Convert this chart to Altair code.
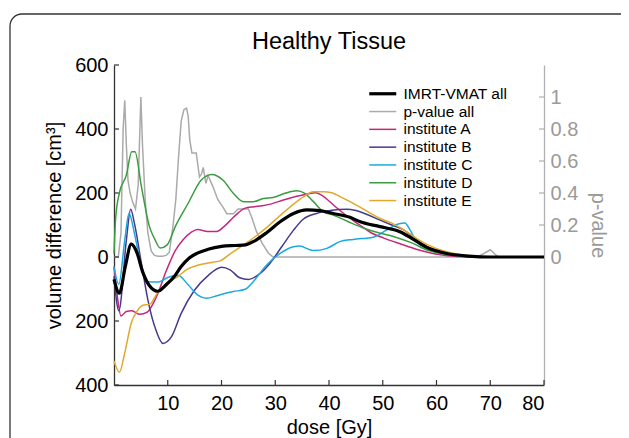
import altair as alt
import pandas as pd

# ---------------- data ----------------
names = ["IMRT-VMAT all", "p-value all", "institute A", "institute B",
         "institute C", "institute D", "institute E"]
colors = ["#000000", "#aaaaaa", "#c4287e", "#463a8c", "#1ba9e1", "#3c9c40", "#e2a82b"]
widths = [3.2, 1.5, 1.5, 1.5, 1.5, 1.5, 1.5]

dose_all = [0, 1.0, 2.1, 3.2, 4.3, 5.3, 6.6, 8.1, 9.8, 11.3, 12.5, 14.0, 15.5, 17.5, 20.0,
            22.5, 24.5, 25.9, 28.4, 30.9, 33.4, 35.9, 38.3, 40.8, 43.9, 45.8, 49.5, 53.2,
            55.7, 58.2, 61.9, 66.0, 70, 80]
vol_all = [-70, -113, -30, 40, 12, -45, -90, -107, -85, -59, -30, -3, 12, 24, 33,
           36, 38, 48, 76, 110, 136, 147, 145, 136, 124, 110, 95, 79,
           55, 30, 11, 3, 0, 0]

dose_p = [0, 0.8, 1.3, 1.7, 2.0, 2.3, 2.6, 3.0, 3.5, 4.0, 4.5, 5.0, 5.3, 5.8, 6.3, 6.9,
          7.5, 8.2, 9.0, 9.7, 10.3, 11.0, 11.5, 12.0, 12.5, 13.0, 13.5, 13.8, 14.1, 14.5,
          15.3, 15.5, 15.9, 16.3, 16.6, 17.1, 17.5, 18.4, 19.3, 20.3, 21.0, 22.2, 23.1,
          25.0, 25.6, 26.5, 27.5, 28.7, 29.6, 67.5, 69.0, 70.0, 70.8, 71.5, 80]
pval = [0, 0, 0.15, 0.8, 0.98, 0.7, 0.48, 0.4, 0.34, 0.3, 0.45, 1.0, 0.7, 0.36, 0.15, 0.04,
        0.01, 0.005, 0.005, 0.01, 0.03, 0.2, 0.36, 0.62, 0.85, 0.92, 0.93, 0.88, 0.73, 0.65,
        0.65, 0.6, 0.50, 0.52, 0.56, 0.46, 0.51, 0.44, 0.36, 0.31, 0.27, 0.27, 0.30,
        0.30, 0.25, 0.16, 0.09, 0.025, 0, 0, 0.025, 0.045, 0.02, 0, 0]

dose_A = [0, 0.6, 1.3, 2.3, 3.3, 4.8, 6.2, 7.9, 9.8, 11.4, 12.9, 14.4, 15.6, 17.4, 19.1,
          20.4, 22.4, 24.3, 26.0, 27.6, 29.3, 31.5, 33.8, 36.0, 37.5, 39.0, 41.2, 43.5,
          45.7, 47.9, 50.2, 52.4, 54.7, 56.9, 59.1, 62.1, 66, 80]
vol_A = [-30, -120, -184, -170, -168, -179, -172, -124, -40, 20, 55, 78, 86, 80, 80,
         94, 127, 152, 157, 160, 166, 178, 189, 197, 201, 189, 157, 126,
         100, 75, 59, 46, 33, 21, 12, 4, 1, 0]

dose_B = [0, 0.9, 2.3, 3.1, 3.8, 5.1, 6.3, 7.9, 9.1, 10.7, 12.5, 15.0, 17.5, 20.0, 21.6,
          23.4, 25.0, 27.2, 29.0, 31.2, 33.4, 35.2, 37.7, 40.2, 43.3, 45.0, 47.2, 49.4,
          51.7, 53.9, 56.2, 58.4, 60.6, 63.6, 67, 80]
vol_B = [-60, -168, 53, 149, 105, -20, -134, -233, -270, -249, -176, -103, -58, -32, -40,
         -65, -70, -51, -20, 32, 84, 118, 136, 145, 149, 145, 132, 116,
         100, 85, 54, 31, 18, 7, 1, 0]

dose_C = [0, 0.9, 2.0, 2.8, 3.8, 5.1, 6.3, 8.2, 10.0, 11.9, 13.8, 15.6, 17.2, 19.3, 22.2,
          24.4, 25.9, 28.4, 30.9, 33.4, 34.5, 37.1, 39.6, 42.0, 44.5, 48.2, 50.7, 52.9,
          54.1, 55.1, 56.3, 58.8, 61.9, 65.1, 68, 80]
vol_C = [-30, -85, 53, 137, 74, -30, -77, -78, -64, -57, -87, -119, -129, -120, -108,
         -101, -77, -25, 11, 32, 34, 20, 27, 48, 55, 62, 84, 103,
         106, 84, 48, 22, 9, 2, 0, 0]

dose_D = [0, 0.3, 1.0, 2.3, 3.3, 3.9, 5.1, 6.6, 7.6, 8.6, 9.9, 11.4, 13.8, 16.2, 18.2,
          20.3, 22.2, 24.1, 25.9, 27.8, 29.6, 31.8, 34.0, 35.5, 37.1, 38.9, 40.8, 43.5,
          46.5, 49.4, 52.4, 55.4, 58.4, 61.4, 64.4, 68, 80]
vol_D = [10, 120, 200, 256, 329, 329, 220, 95, 55, 28, 38, 95, 168, 240, 258,
         240, 199, 173, 173, 183, 186, 199, 207, 199, 173, 142, 131, 111,
         90, 75, 62, 44, 21, 9, 4, 0, 0]

dose_E = [0, 1.0, 2.0, 3.2, 4.3, 5.4, 6.6, 8.1, 9.9, 11.8, 13.6, 15.9, 18.1, 19.6, 21.8,
          24.1, 26.3, 28.6, 30.8, 33.0, 35.3, 37.1, 39.0, 40.5, 42.7, 45.0, 47.2, 49.4,
          51.7, 53.9, 56.2, 58.4, 60.6, 63.6, 66.6, 70, 80]
vol_E = [-325, -360, -300, -207, -169, -151, -148, -112, -81, -62, -39, -24, -17, -13, 12,
         38, 64, 95, 128, 160, 189, 204, 204, 201, 183, 163, 142, 121,
         106, 85, 59, 38, 23, 10, 3, 0, 0]

vol_ticks = [-400, -200, 0, 200, 400, 600]
p_ticks = [0, 0.2, 0.4, 0.6, 0.8, 1.0]
dose_ticks = [10, 20, 30, 40, 50, 60, 70, 80]

# ---------------- frames ----------------
def frame(series, d, v, col):
    return pd.DataFrame({"series": series, "dose": d, col: v})

df_all = frame("IMRT-VMAT all", dose_all, vol_all, "v")
df_p = frame("p-value all", dose_p, pval, "p")
df_inst = pd.concat([
    frame("institute A", dose_A, vol_A, "v"),
    frame("institute B", dose_B, vol_B, "v"),
    frame("institute C", dose_C, vol_C, "v"),
    frame("institute D", dose_D, vol_D, "v"),
    frame("institute E", dose_E, vol_E, "v"),
], ignore_index=True)

FONT = "Liberation Sans"
W, H = 430, 320

leg = alt.Legend(title=None, orient="none", legendX=261, legendY=21,
                 symbolType="M-2.7,0H2.7", symbolSize=100, labelFontSize=15.5,
                 labelFont=FONT, labelColor="#000", labelOffset=13, rowPadding=0.8,
                 padding=0, symbolFillColor="transparent")

color = alt.Color("series:N", scale=alt.Scale(domain=names, range=colors), legend=leg)
swidth = alt.StrokeWidth("series:N",
                         scale=alt.Scale(type="ordinal", domain=names, range=widths),
                         legend=leg)

xenc = alt.X("dose:Q", scale=alt.Scale(domain=[0, 80], nice=False),
             axis=alt.Axis(title="dose [Gy]", values=dose_ticks, ticks=False, grid=False,
                           labelFontSize=20, titleFontSize=20, labelPadding=8,
                           titlePadding=4, domainColor="#333", domainWidth=1.3,
                           labelColor="#000", titleColor="#000", titleFontWeight="normal"))

vscale = alt.Scale(domain=[-400, 600], nice=False)
vaxis = alt.Axis(title="volume difference [cm³]", values=vol_ticks, ticks=False, grid=False,
                 labelExpr="format(abs(datum.value), 'd')", labelFontSize=20,
                 titleFontSize=20, labelPadding=6, titlePadding=10, domainColor="#333",
                 domainWidth=1.3, labelColor="#000", titleColor="#000",
                 titleFontWeight="normal", orient="left")

pscale = alt.Scale(domain=[-0.8, 1.2], nice=False)
paxis = alt.Axis(title="p-value", values=p_ticks, ticks=False, grid=False, orient="right",
                 labelExpr="datum.value == 0 ? '0' : datum.value == 1 ? '1' : format(datum.value, '.1f')",
                 labelFontSize=20, titleFontSize=20, labelPadding=6, titlePadding=10,
                 domainColor="#b0b0b0", domainWidth=1.3, labelColor="#9a9a9a",
                 titleColor="#9a9a9a", titleFontWeight="normal")

# decorative rounded frame of the figure
frame_layer = alt.Chart(pd.DataFrame({"k": [0]})).mark_rect(
    fillOpacity=0, stroke="#333", strokeWidth=1.3, cornerRadius=12
).encode(x=alt.value(-104), x2=alt.value(520), y=alt.value(-51), y2=alt.value(420))

# p-value layer (right axis)
p_line = alt.Chart(df_p).mark_line(interpolate="linear").encode(
    x=xenc, y=alt.Y("p:Q", scale=pscale, axis=paxis), color=color, strokeWidth=swidth)
p_tick = alt.Chart(pd.DataFrame({"p": p_ticks})).mark_rule(color="#b0b0b0", strokeWidth=1.2).encode(
    y=alt.Y("p:Q", scale=pscale, axis=paxis), x=alt.value(W), x2=alt.value(W - 5))
p_layer = alt.layer(p_line, p_tick)

# volume layers (left axis)
inst = alt.Chart(df_inst).mark_line(interpolate="monotone").encode(
    x=xenc, y=alt.Y("v:Q", scale=vscale, axis=vaxis), color=color, strokeWidth=swidth,
    detail="series:N")
black = alt.Chart(df_all).mark_line(interpolate="monotone").encode(
    x=xenc, y=alt.Y("v:Q", scale=vscale, axis=vaxis), color=color, strokeWidth=swidth)
v_tick = alt.Chart(pd.DataFrame({"v": vol_ticks})).mark_rule(color="#333", strokeWidth=1.2).encode(
    y=alt.Y("v:Q", scale=vscale, axis=vaxis), x=alt.value(0), x2=alt.value(5))
x_tick = alt.Chart(pd.DataFrame({"dose": dose_ticks})).mark_rule(color="#333", strokeWidth=1.2).encode(
    x=xenc, y=alt.value(H), y2=alt.value(H - 5))
v_layer = alt.layer(v_tick, x_tick, inst, black)

chart = alt.layer(frame_layer, p_layer, v_layer).resolve_scale(y="independent").properties(
    width=W, height=H,
    title=alt.Title("Healthy Tissue", fontSize=23.5, font=FONT, fontWeight="normal",
                    color="#000", offset=0, dy=40, anchor="middle"),
    autosize=alt.AutoSizeParams(type="none"),
    padding={"left": 106, "top": 57, "right": 77, "bottom": 60},
).configure(font=FONT).configure_view(stroke=None)

chart.save("out.html", embed_options={"renderer": "svg", "actions": False})
